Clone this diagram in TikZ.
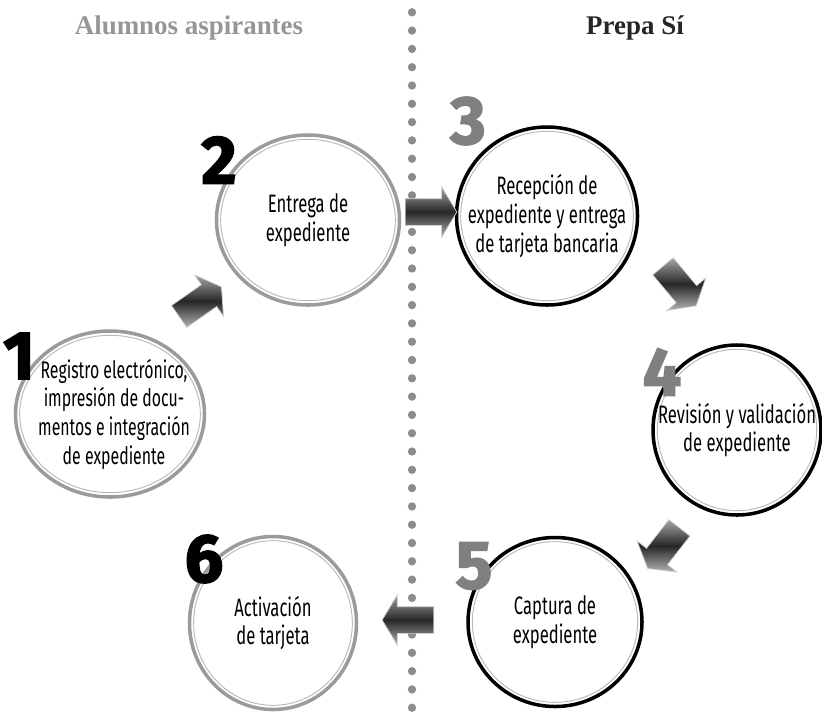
\documentclass[tikz,border=0pt]{standalone}
\usepackage{fontspec}
\setmainfont{Liberation Serif}
\newfontfamily\stepfont{Fira Sans}[FakeStretch=0.66]
\newfontfamily\numfont{Fira Sans}[FakeBold=2.5]
\usetikzlibrary{shapes.geometric, shapes.arrows, positioning}
\definecolor{cRing}{RGB}{155,155,155}
\definecolor{cDot}{RGB}{140,140,140}
\definecolor{cNum}{RGB}{128,128,128}
\definecolor{cHead}{RGB}{150,150,150}
\tikzset{
	stepcirc/.style ={ellipse, draw=cRing, line width=3pt, fill=white, inner sep=0pt},
	darkcirc/.style ={stepcirc, draw=black},
	innerring/.style={draw=gray!55, line width=0.8pt},
	steptext/.style ={align=center, inner sep=0pt, font=\stepfont\fontsize{21.5}{24.5}\selectfont},
	stepnum/.style  ={inner sep=0pt, font=\numfont\bfseries\fontsize{58}{58}\selectfont},
	sidehead/.style ={inner sep=0pt, font=\bfseries\fontsize{23}{27}\selectfont},
	flowblock/.style={single arrow, draw=gray!35, line width=0.6pt, minimum height=1.55cm, inner xsep=0pt, inner ysep=0.39cm,
		single arrow head extend=0.36cm, single arrow tip angle=118, top color=gray!70, bottom color=gray!60, middle color=black!85},
	sepline/.style  ={cDot, line width=0.25cm, line cap=round, dash pattern=on 0pt off 0.549cm},
}
\begin{document}
\begin{tikzpicture}[x=0.03cm, y=-0.03cm]
	\useasboundingbox (0,0) rectangle (822,716);
	% column headings and separator
	\node[sidehead, text=cHead] (left) at (189,28) {Alumnos aspirantes};
	\node[sidehead, text=black!85] (right) at (635,28) {Prepa Sí};
	\coordinate (septop) at (412,12.3);
	\coordinate (sepbot) at (412,712);
	\draw[sepline] (septop) -- (sepbot);
	% steps
	\node[stepcirc, minimum width=5.67cm, minimum height=4.98cm] (c1) at (110,414) {};
	\node[stepcirc, minimum width=5.49cm, minimum height=5.10cm] (c2) at (308,220) {};
	\node[darkcirc, minimum width=5.43cm, minimum height=5.34cm] (c3) at (547,216) {};
	\node[darkcirc, minimum width=5.04cm, minimum height=5.10cm] (c4) at (737,430) {};
	\node[darkcirc, minimum width=5.22cm, minimum height=5.07cm] (c5) at (555,622) {};
	\node[stepcirc, minimum width=5.01cm, minimum height=5.19cm] (c6) at (273,623) {};
	\draw[innerring] (c1.center) ellipse [x radius=2.71cm, y radius=2.36cm];
	\draw[innerring] (c2.center) ellipse [x radius=2.62cm, y radius=2.42cm];
	\draw[innerring] (c3.center) ellipse [x radius=2.59cm, y radius=2.54cm];
	\draw[innerring] (c4.center) ellipse [x radius=2.39cm, y radius=2.42cm];
	\draw[innerring] (c5.center) ellipse [x radius=2.48cm, y radius=2.41cm];
	\draw[innerring] (c6.center) ellipse [x radius=2.38cm, y radius=2.47cm];
	\node[steptext, xshift=0.12cm, font=\stepfont\fontsize{20.5}{24.5}\selectfont] (t1) at (c1.center) {Registro electrónico,\\ impresión de docu-\\ mentos e integración\\ de expediente};
	\node[steptext] (t2) at (c2.center) {Entrega de\\ expediente};
	\node[steptext] (t3) at (c3.center) {Recepción de\\ expediente y entrega\\ de tarjeta bancaria};
	\node[steptext] (t4) at (c4.center) {Revisión y validación\\ de expediente};
	\node[steptext] (t5) at (c5.center) {Captura de\\ expediente};
	\node[steptext] (t6) at (c6.center) {Activación\\ de tarjeta};
	% numbers
	\node[stepnum] (n1) at (19,356) {1};
	\node[stepnum] (n2) at (219,160) {2};
	\node[stepnum, text=cNum] (n3) at (468,121) {3};
	\node[stepnum, text=cNum] (n4) at (662,372) {4};
	\node[stepnum, text=cNum] (n5) at (474,566) {5};
	\node[stepnum] (n6) at (204,559) {6};
	% arrows between steps
	\node[flowblock, rotate=35] (a12) at (197,304) {};
	\node[flowblock] (a23) at (427,212) {};
	\node[flowblock, rotate=-50] (a34) at (677,283) {};
	\node[flowblock, rotate=-128] (a45) at (666,545) {};
	\node[flowblock, rotate=180] (a56) at (412,620) {};
\end{tikzpicture}
\end{document}
